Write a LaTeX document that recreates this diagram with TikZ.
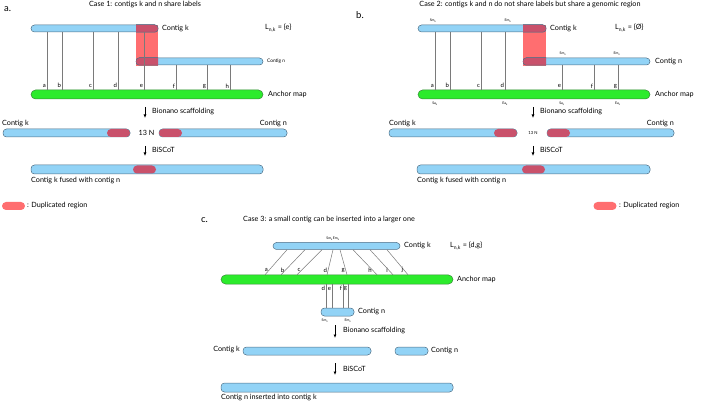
\documentclass[tikz,border=0pt]{standalone}
\usepackage{fontspec}
\setmainfont{Lato}
\usetikzlibrary{arrows.meta}

\definecolor{contig}{HTML}{92D3F6}
\definecolor{barline}{HTML}{4F6F86}
\definecolor{anchorfill}{HTML}{2CEB2C}
\definecolor{anchorline}{HTML}{3A8A3A}
\definecolor{dupred}{HTML}{FF6E70}
\definecolor{dupdark}{HTML}{C9516B}
\definecolor{tickgray}{HTML}{7A7A7A}

\tikzset{
  bar/.style={rectangle, draw=barline, fill=contig, line width=0.5pt, rounded corners=3.5pt, inner sep=0pt, minimum height=7pt},
  anchormap/.style={rectangle, draw=anchorline, fill=anchorfill, line width=0.5pt, rounded corners=4.5pt, inner sep=0pt, minimum height=9pt},
  dup/.style={rectangle, fill=dupdark, rounded corners=4pt, inner sep=0pt, minimum height=8pt, minimum width=23pt},
  tick/.style={draw=tickgray, line width=0.5pt},
  lbl/.style={font=\fontsize{7.2}{8}\selectfont, inner sep=0pt},
  sml/.style={font=\fontsize{6}{7}\selectfont, inner sep=0.8pt},
  tny/.style={font=\fontsize{3.5}{4}\selectfont, inner sep=0pt},
  panel/.style={font=\fontsize{9.5}{10}\selectfont, inner sep=0pt},
  step arrow/.style={-{Latex[length=3.5pt,width=3pt]}, line width=0.8pt}
}

\begin{document}
\begin{tikzpicture}[x=1pt, y=-1pt]
  \useasboundingbox (0,0) rectangle (701,403);

  % ---------------- panel a
  \node[panel, anchor=west] (pa) at (4,9) {a.};
  \node[lbl] (ta) at (145,5) {Case 1: contigs k and n share labels};

  \fill[dupred] (136,25) rectangle (158,66);
  \node[bar, minimum width=127pt] (kA) at (94.5,28.5) {};
  \node[bar, minimum width=127pt] (nA) at (199.5,61.5) {};
  \node[anchormap, minimum width=232pt] (amA) at (147,94.5) {};
  \begin{scope}
    \clip (136,25) rectangle (158,66);
    \filldraw[fill=dupdark, draw=barline, line width=0.5pt, rounded corners=3.5pt] (kA.south west) rectangle (kA.north east);
    \filldraw[fill=dupdark, draw=barline, line width=0.5pt, rounded corners=3.5pt] (nA.south west) rectangle (nA.north east);
  \end{scope}

  \foreach \x/\l in {47/a, 62/b, 93/c, 118/d, 144/e}
    \draw[tick] (\x,0 |- kA.south) -- node[sml, pos=0.93, anchor=east] {\l} (\x,0 |- amA.north);
  \foreach \x/\l in {176/f, 207/g, 230/h}
    \draw[tick] (\x,0 |- nA.south) -- node[sml, pos=0.85, anchor=east] {\l} (\x,0 |- amA.north);

  \node[lbl, anchor=west] (kAl) at (162,28.5) {Contig k};
  \node[lbl, anchor=west, font=\fontsize{4.8}{5}\selectfont] (nAl) at (267,61.5) {Contig n};
  \node[lbl, anchor=west] (amAl) at (268,94.5) {Anchor map};
  \node[lbl, anchor=west] (LA) at (265,28) {L\textsubscript{n,k} = \{e\}};

  \coordinate (a1s) at (145,107);
  \coordinate (a1e) at (145,118);
  \draw[step arrow] (a1s) -- (a1e);
  \node[lbl, anchor=west] (bnA) at (152,112) {Bionano scaffolding};

  \node[bar, minimum width=127pt, minimum height=8pt] (kA2) at (66.5,133) {};
  \node[dup] (dkA2) at (118.5,133) {};
  \node[lbl] (gapA) at (146.5,133) {13 N};
  \node[bar, minimum width=128pt, minimum height=8pt] (nA2) at (223,133) {};
  \node[dup] (dnA2) at (170.5,133) {};
  \node[lbl, anchor=west] (kA2l) at (2,124) {Contig k};
  \node[lbl, anchor=east] (nA2l) at (287,124) {Contig n};

  \coordinate (a2s) at (145,146);
  \coordinate (a2e) at (145,156);
  \draw[step arrow] (a2s) -- (a2e);
  \node[lbl, anchor=west] (bsA) at (152,150) {BiSCoT};

  \node[bar, minimum width=232pt, minimum height=9pt] (fA) at (147,169.5) {};
  \node[dup] (dfA) at (144.5,169.5) {};
  \node[lbl, anchor=north west] (fAl) at (31,177) {Contig k fused with contig n};

  \node[dup, fill=dupred] (legA) at (13.5,206) {};
  \node[lbl, anchor=west] (legAl) at (27,206) {: Duplicated region};

  % ---------------- panel b
  \node[panel, anchor=west] (pb) at (356,15) {b.};
  \node[lbl] (tb) at (530,5) {Case 2: contigs k and n do not share labels but share a genomic region};

  \fill[dupred] (523,25) rectangle (546,66);
  \node[bar, minimum width=128pt] (kB) at (482,28.5) {};
  \node[bar, minimum width=127pt] (nB) at (586.5,61.5) {};
  \node[anchormap, minimum width=232pt] (amB) at (534,94.5) {};
  \begin{scope}
    \clip (523,25) rectangle (546,66);
    \filldraw[fill=dupdark, draw=barline, line width=0.5pt, rounded corners=3.5pt] (kB.south west) rectangle (kB.north east);
    \filldraw[fill=dupdark, draw=barline, line width=0.5pt, rounded corners=3.5pt] (nB.south west) rectangle (nB.north east);
  \end{scope}

  \foreach \x/\l in {435/a, 450/b, 481/c, 505/d}
    \draw[tick] (\x,0 |- kB.south) -- node[sml, pos=0.93, anchor=east] {\l} (\x,0 |- amB.north);
  \foreach \x/\l in {562/e, 594/f, 618/g}
    \draw[tick] (\x,0 |- nB.south) -- node[sml, pos=0.85, anchor=east] {\l} (\x,0 |- amB.north);

  \node[tny] (smkB) at (433,20.5) {Sm\textsubscript{k}};
  \node[tny] (emkB) at (508,20.5) {Em\textsubscript{k}};
  \node[tny] (smnB) at (563,53.5) {Sm\textsubscript{n}};
  \node[tny] (emnB) at (617,53.5) {Em\textsubscript{n}};
  \node[tny] (sakB) at (435,103.5) {Sa\textsubscript{k}};
  \node[tny] (eakB) at (505,103.5) {Ea\textsubscript{k}};
  \node[tny] (sanB) at (562,103.5) {Sa\textsubscript{n}};
  \node[tny] (eanB) at (618,103.5) {Ea\textsubscript{n}};

  \node[lbl, anchor=west] (kBl) at (550,28.5) {Contig k};
  \node[lbl, anchor=west] (nBl) at (655,61.5) {Contig n};
  \node[lbl, anchor=west] (amBl) at (655,94.5) {Anchor map};
  \node[lbl, anchor=west] (LB) at (615,28) {L\textsubscript{n,k} = \{Ø\}};

  \coordinate (b1s) at (533,107);
  \coordinate (b1e) at (533,118);
  \draw[step arrow] (b1s) -- (b1e);
  \node[lbl, anchor=west] (bnB) at (540,112) {Bionano scaffolding};

  \node[bar, minimum width=128pt, minimum height=8pt] (kB2) at (453,133) {};
  \node[dup] (dkB2) at (505.5,133) {};
  \node[tny, font=\fontsize{4.2}{5}\selectfont] (gapB) at (533,133) {13 N};
  \node[bar, minimum width=127pt, minimum height=8pt] (nB2) at (610.5,133) {};
  \node[dup] (dnB2) at (558.5,133) {};
  \node[lbl, anchor=west] (kB2l) at (389,124) {Contig k};
  \node[lbl, anchor=east] (nB2l) at (674,124) {Contig n};

  \coordinate (b2s) at (533,146);
  \coordinate (b2e) at (533,156);
  \draw[step arrow] (b2s) -- (b2e);
  \node[lbl, anchor=west] (bsB) at (540,150) {BiSCoT};

  \node[bar, minimum width=233pt, minimum height=9pt] (fB) at (533.5,169.5) {};
  \node[dup] (dfB) at (533.5,169.5) {};
  \node[lbl, anchor=north west] (fBl) at (417,177) {Contig k fused with contig n};

  \node[dup, fill=dupred] (legB) at (605,206) {};
  \node[lbl, anchor=west] (legBl) at (619,206) {: Duplicated region};

  % ---------------- panel c
  \node[panel, anchor=west] (pc) at (201,220) {c.};
  \node[lbl, anchor=west] (tc) at (243,220) {Case 3: a small contig can be inserted into a larger one};

  \node[bar, minimum width=127pt] (kC) at (336.5,246) {};
  \node[anchormap, minimum width=232pt] (amC) at (337,279.5) {};
  \node[bar, minimum width=33pt, minimum height=8pt] (nC) at (337.5,312) {};

  \foreach \t/\b/\l in {287/265/a, 305/281/b, 322/297/c, 333/327/d, 340/347/g, 353/377/h, 370/393/i, 387/408/j}
    \draw[tick] (\t,0 |- kC.south) -- node[sml, pos=0.82, anchor=east] {\l} (\b,0 |- amC.north);
  \foreach \x/\l in {326/d, 332/e, 343/f, 348/g}
    \draw[tick] (\x,0 |- amC.south) -- node[sml, pos=0.18, anchor=east] {\l} (\x,0 |- nC.north);

  \node[tny] (smkC) at (333,239) {Sm\textsubscript{k}Em\textsubscript{k}};
  \node[tny] (smnC) at (325,320.5) {Sm\textsubscript{n}};
  \node[tny] (emnC) at (348,320.5) {Em\textsubscript{n}};

  \node[lbl, anchor=west] (kCl) at (404,246) {Contig k};
  \node[lbl, anchor=west] (LC) at (450,246) {L\textsubscript{n,k} = \{d,g\}};
  \node[lbl, anchor=west] (amCl) at (457,279.5) {Anchor map};
  \node[lbl, anchor=west] (nCl) at (358,312) {Contig n};

  \coordinate (c1s) at (335,325);
  \coordinate (c1e) at (335,338);
  \draw[step arrow] (c1s) -- (c1e);
  \node[lbl, anchor=west] (bnC) at (343,331) {Bionano scaffolding};

  \node[bar, minimum width=128pt, minimum height=8pt] (kC2) at (307,351) {};
  \node[bar, minimum width=33pt, minimum height=8pt] (nC2) at (411.5,351) {};
  \node[lbl, anchor=east] (kC2l) at (240,350) {Contig k};
  \node[lbl, anchor=west] (nC2l) at (431,351) {Contig n};

  \coordinate (c2s) at (335,363);
  \coordinate (c2e) at (335,375);
  \draw[step arrow] (c2s) -- (c2e);
  \node[lbl, anchor=west] (bsC) at (343,369) {BiSCoT};

  \node[bar, minimum width=232pt, minimum height=9pt] (fC) at (337,387.5) {};
  \node[lbl, anchor=north west] (fCl) at (221,394) {Contig n inserted into contig k};
\end{tikzpicture}
\end{document}
